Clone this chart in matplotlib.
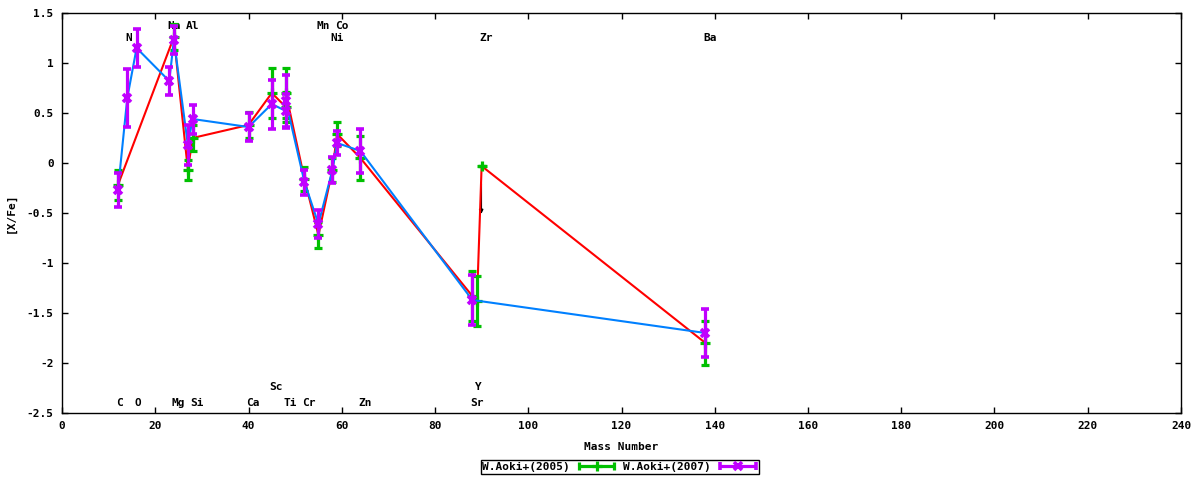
import matplotlib
matplotlib.use('Agg')
import matplotlib.pyplot as plt
from matplotlib.legend_handler import HandlerErrorbar

# ---------------- data ----------------
# W.Aoki+(2005)
mass_2005 = [12, 24, 27, 28, 40, 45, 48, 48, 52, 55, 58, 59, 64, 88, 89, 90, 138]
xfe_2005 = [-0.22, 1.26, -0.07, 0.25, 0.38, 0.70, 0.56, 0.70, -0.16, -0.72,
            -0.07, 0.29, 0.05, -1.33, -1.38, -0.03, -1.80]
err_2005 = [0.15, 0.13, 0.10, 0.13, 0.13, 0.25, 0.15, 0.25, 0.12, 0.13,
            0.12, 0.12, 0.22, 0.25, 0.25, 0.0, 0.22]

# W.Aoki+(2007)
mass_2007 = [12, 14, 16, 23, 24, 27, 28, 40, 45, 48, 48, 52, 55, 58, 59, 64, 88, 138]
xfe_2007 = [-0.27, 0.65, 1.15, 0.82, 1.23, 0.18, 0.44, 0.36, 0.59, 0.52, 0.62,
            -0.19, -0.61, -0.07, 0.20, 0.12, -1.37, -1.70]
err_2007 = [0.17, 0.29, 0.19, 0.14, 0.14, 0.20, 0.145, 0.14, 0.245, 0.17, 0.26,
            0.125, 0.14, 0.13, 0.12, 0.22, 0.25, 0.24]

# element labels
label_text = ['Na', 'Al', 'Mn', 'Co',
              'N', 'Ni', 'Zr', 'Ba',
              'Sc', 'Y',
              'C', 'O', 'Mg', 'Si', 'Ca', 'Ti', 'Cr', 'Zn', 'Sr']
label_mass = [23, 27, 55, 59,
              14, 58, 90, 138,
              45, 89,
              12, 16, 24, 28, 40, 48, 52, 64, 88]
label_row = [1.37, 1.37, 1.37, 1.37,
             1.25, 1.25, 1.25, 1.25,
             -2.24, -2.24,
             -2.40, -2.40, -2.40, -2.40, -2.40, -2.40, -2.40, -2.40, -2.40]

# upper-limit arrow (black) near Y
arrow_mass = 89.9
arrow_from = -0.18
arrow_to = -0.54

x_ticks = [0, 20, 40, 60, 80, 100, 120, 140, 160, 180, 200, 220, 240]
y_ticks = [-2.5, -2, -1.5, -1, -0.5, 0, 0.5, 1, 1.5]
y_ticklabels = ['-2.5', '-2', '-1.5', '-1', '-0.5', '0', '0.5', '1', '1.5']
series_names = ['W.Aoki+(2005)', 'W.Aoki+(2007)']

# ---------------- style ----------------
FONT = dict(family='DejaVu Sans Mono', weight='bold', size=8)
GREEN = '#00c000'
PURPLE = '#c000ff'
RED = '#ff0000'
BLUE = '#0080ff'

fig = plt.figure(figsize=(12, 4.8), dpi=100)
ax = fig.add_axes([62/1200, 1-413/480, (1181-62)/1200, (413-13)/480])

eb_style_2005 = dict(fmt='+', color=GREEN, ecolor=GREEN, elinewidth=2.3,
                     capsize=3.0, capthick=2.3, markersize=7, mew=2.3)
eb_style_2007 = dict(fmt='x', color=PURPLE, ecolor=PURPLE, elinewidth=2.3,
                     capsize=3.0, capthick=2.3, markersize=6, mew=2.6)

# lines connecting each data set
ax.plot(mass_2005, xfe_2005, color=RED, lw=1.5, zorder=2)
ax.errorbar(mass_2005, xfe_2005, yerr=err_2005, zorder=3, **eb_style_2005)
ax.plot(mass_2007, xfe_2007, color=BLUE, lw=1.5, zorder=4)
ax.errorbar(mass_2007, xfe_2007, yerr=err_2007, zorder=5, **eb_style_2007)

# legend samples drawn horizontally (gnuplot style): empty dummy containers
nan = float('nan')
h1 = ax.errorbar([nan], [nan], xerr=[1.0], **eb_style_2005)
h2 = ax.errorbar([nan], [nan], xerr=[1.0], **eb_style_2007)

ax.annotate('', xy=(arrow_mass, arrow_to), xytext=(arrow_mass, arrow_from),
            arrowprops=dict(arrowstyle='-|>', color='black', lw=1.3,
                            mutation_scale=5), zorder=1)

for t, m, r in zip(label_text, label_mass, label_row):
    ax.text(m - 0.45, r, t, ha='left', va='center', zorder=1, **FONT)

ax.set_xlim(0, 240)
ax.set_ylim(-2.5, 1.5)
ax.set_xticks(x_ticks)
ax.set_xticklabels([str(v) for v in x_ticks], **FONT)
ax.set_yticks(y_ticks)
ax.set_yticklabels(y_ticklabels, **FONT)
ax.tick_params(direction='in', length=4, width=1, top=True, right=True,
               pad=6)
for s in ax.spines.values():
    s.set_linewidth(1)
ax.set_xlabel('Mass Number', labelpad=8, **FONT)
ax.set_ylabel('[X/Fe]', labelpad=8, **FONT)

leg = fig.legend(handles=[h1, h2], labels=series_names,
                 handler_map={h1: HandlerErrorbar(xerr_size=1.6),
                              h2: HandlerErrorbar(xerr_size=1.6)},
                 loc='center', bbox_to_anchor=(620/1200, 1-467/480), ncol=2,
                 markerfirst=False, frameon=True, fancybox=False,
                 edgecolor='black', framealpha=1, handlelength=3.6,
                 columnspacing=0.6, handletextpad=0.6, borderpad=0.15,
                 borderaxespad=0, prop=dict(family='DejaVu Sans Mono',
                                             weight='bold', size=8))
leg.get_frame().set_linewidth(1)

fig.savefig('out.png', dpi=100)
